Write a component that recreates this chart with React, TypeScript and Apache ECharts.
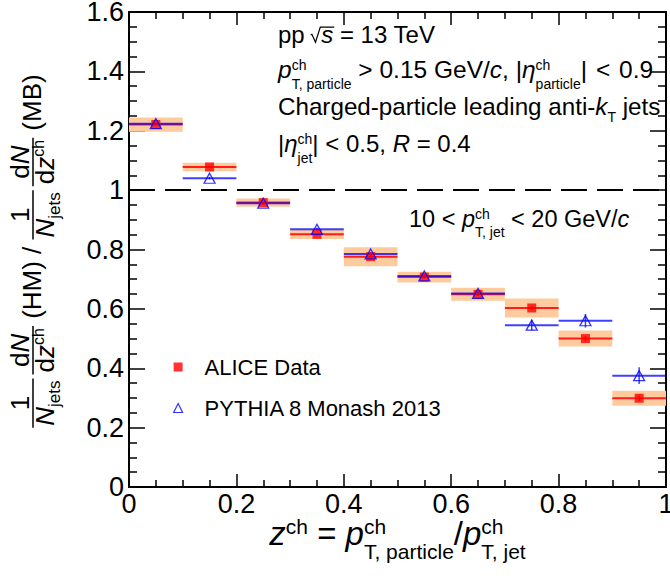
import React, { useEffect, useRef } from 'react';
import * as echarts from 'echarts';

const FONT = '"Liberation Sans", Arial, Helvetica, sans-serif';

// ---- data ----
const binCenters = [0.05, 0.15, 0.25, 0.35, 0.45, 0.55, 0.65, 0.75, 0.85, 0.95];
const binHalfWidth = 0.05;
const aliceValues = [1.221, 1.078, 0.958, 0.851, 0.776, 0.707, 0.649, 0.603, 0.5, 0.299];
const aliceStat = [0.004, 0.004, 0.004, 0.004, 0.005, 0.005, 0.006, 0.007, 0.008, 0.009];
const aliceSys = [0.024, 0.014, 0.014, 0.016, 0.032, 0.018, 0.022, 0.032, 0.027, 0.025];
const pythiaValues = [1.224, 1.04, 0.956, 0.868, 0.785, 0.711, 0.652, 0.545, 0.56, 0.375];
const pythiaStat = [0.004, 0.004, 0.004, 0.005, 0.006, 0.007, 0.008, 0.018, 0.023, 0.028];
const xRange = [0, 1];
const yRange = [0, 1.6];
const xInterval = 0.2;
const yInterval = 0.2;
const referenceLine = 1;
const legendNames = ['ALICE Data', 'PYTHIA 8 Monash 2013'];

const RED = '#ff0000';
const BLUE = '#0000ff';
const BOX = '#fdcb9d';

// ---- text layout helpers ----
let _ctx: CanvasRenderingContext2D | null = null;
function mw(t: string, s: number, it = false): number {
  if (!_ctx) _ctx = document.createElement('canvas').getContext('2d');
  _ctx!.font = `${it ? 'italic ' : ''}${s}px ${FONT}`;
  return _ctx!.measureText(t).width;
}
type Piece = { t: string; s: number; it?: boolean; dy?: number; gap?: number };
type Seg = Piece | { stack: Piece[]; gap?: number };

function T(x: number, base: number, text: string, size: number, italic = false): any {
  return {
    type: 'text',
    x,
    y: base - 0.3465 * size,
    silent: true,
    style: {
      text,
      fontSize: size,
      fontFamily: FONT,
      fontStyle: italic ? 'italic' : 'normal',
      fill: '#000',
      textAlign: 'left',
      textVerticalAlign: 'middle',
      verticalAlign: 'middle',
    },
  };
}
function segWidth(g: Seg): number {
  if ('stack' in g) return Math.max(...g.stack.map((p) => mw(p.t, p.s, p.it))) + (g.gap || 0);
  return mw(g.t, g.s, g.it) + (g.gap || 0);
}
function runWidth(segs: Seg[]): number {
  return segs.reduce((a, g) => a + segWidth(g), 0);
}
function run(x0: number, base: number, segs: Seg[], out: any[]): number {
  let x = x0;
  for (const g of segs) {
    if ('stack' in g) {
      for (const p of g.stack) out.push(T(x, base + (p.dy || 0), p.t, p.s, p.it));
    } else {
      out.push(T(x, base + (g.dy || 0), g.t, g.s, g.it));
    }
    x += segWidth(g);
  }
  return x;
}
function frac(x: number, num: Seg[], den: Seg[], numBase: number, denBase: number, out: any[]): number {
  const wn = runWidth(num);
  const wd = runWidth(den);
  const pad = 2;
  const W = Math.max(wn, wd) + 2 * pad;
  out.push({
    type: 'line',
    silent: true,
    shape: { x1: x, y1: 0, x2: x + W, y2: 0 },
    style: { stroke: '#000', lineWidth: 1.5 },
  });
  run(x + (W - wn) / 2, numBase, num, out);
  run(x + (W - wd) / 2, denBase, den, out);
  return x + W;
}

function buildGraphics(): any[] {
  const els: any[] = [];
  // --- top-right info block ---
  const S = 24;
  const S2 = 24.5;
  const S3 = 24.2;
  const R = 14;
  const X0 = 278;
  // line 1: pp sqrt(s) = 13 TeV
  {
    const b = 43;
    els.push(T(X0, b, 'pp', S));
    const xr = X0 + mw('pp', S) + 6;
    const xs = xr + 0.44 * S;
    const sw = mw('s', S, true);
    els.push({
      type: 'polyline',
      silent: true,
      shape: {
        points: [
          [xr, b - 0.33 * S],
          [xr + 0.05 * S, b - 0.36 * S],
          [xr + 0.2 * S, b - 0.03 * S],
          [xr + 0.4 * S, b - 0.66 * S],
          [xs + sw + 1, b - 0.66 * S],
        ],
      },
      style: { stroke: '#000', lineWidth: 1.2, fill: 'none' },
    });
    els.push(T(xs, b, 's', S, true));
    els.push(T(xs + sw, b, ' = 13 TeV', S));
  }
  run(X0, 78, [
    { t: 'p', s: S2, it: true },
    { stack: [{ t: 'ch', s: R, dy: -8 }, { t: 'T, particle', s: R, dy: 11 }] },
    { t: ' > 0.15 GeV/', s: S2 },
    { t: 'c', s: S2, it: true },
    { t: ', |', s: S2 },
    { t: 'η', s: S2, it: true },
    { stack: [{ t: 'ch', s: R, dy: -8 }, { t: 'particle', s: R, dy: 11 }] },
    { t: '| ', s: S2, gap: 2 },
    { t: '< ', s: S2, gap: 2 },
    { t: '0.9', s: S2 },
  ], els);
  run(X0, 115, [
    { t: 'Charged-particle leading anti-', s: S3 },
    { t: 'k', s: S3, it: true },
    { stack: [{ t: 'T', s: R, dy: 7 }] },
    { t: ' jets', s: S3 },
  ], els);
  run(X0, 152, [
    { t: '|', s: S },
    { t: 'η', s: S, it: true },
    { stack: [{ t: 'ch', s: R, dy: -8 }, { t: 'jet', s: R, dy: 11 }] },
    { t: '| < 0.5, ', s: S },
    { t: 'R', s: S, it: true },
    { t: ' = 0.4', s: S },
  ], els);
  // jet pt range
  run(409, 227, [
    { t: '10 < ', s: 23.5 },
    { t: 'p', s: 23.5, it: true },
    { stack: [{ t: 'ch', s: R, dy: -8 }, { t: 'T, jet', s: R, dy: 10 }] },
    { t: ' < 20 GeV/', s: 23.5 },
    { t: 'c', s: 23.5, it: true },
  ], els);

  // --- x axis title ---
  {
    const M = 33;
    const r = 21;
    const segs: Seg[] = [
      { t: 'z', s: M, it: true },
      { stack: [{ t: 'ch', s: r, dy: -11 }] },
      { t: ' = ', s: M },
      { t: 'p', s: M, it: true },
      { stack: [{ t: 'ch', s: r, dy: -11 }, { t: 'T, particle', s: r, dy: 14 }] },
      { t: '/', s: M },
      { t: 'p', s: M, it: true },
      { stack: [{ t: 'ch', s: r, dy: -11 }, { t: 'T, jet', s: r, dy: 14 }] },
    ];
    const w = runWidth(segs);
    run(397.5 - w / 2, 545, segs, els);
  }

  // --- y axis title (rotated) ---
  {
    const M = 26;
    const r = 17;
    const loc: any[] = [];
    const numB = -4;
    const denB = 21;
    const one = (x: number) =>
      frac(x, [{ t: '1', s: M }], [{ t: 'N', s: M, it: true }, { stack: [{ t: 'jets', s: r, dy: 6 }] }], numB, denB, loc);
    const dndz = (x: number) =>
      frac(
        x,
        [{ t: 'd', s: M }, { t: 'N', s: M, it: true }],
        [{ t: 'd', s: M }, { t: 'z', s: M, it: true }, { stack: [{ t: 'ch', s: 16, dy: -10 }] }],
        numB,
        denB,
        loc
      );
    let x = 0;
    x = one(x) + 4;
    x = dndz(x);
    x = run(x, 8, [{ t: ' (HM) / ', s: M }], loc);
    x = one(x) + 4;
    x = dndz(x);
    x = run(x, 8, [{ t: ' (MB)', s: M }], loc);
    const L = x;
    els.push({ type: 'group', x: 33, y: 251 + L / 2, rotation: Math.PI / 2, children: loc });
  }
  return els;
}

function barRenderer(color: string, hw: number) {
  return (params: any, api: any) => {
    const x = api.value(0);
    const y = api.value(1);
    const e = api.value(2);
    const l = api.coord([x - hw, y]);
    const r = api.coord([x + hw, y]);
    const t = api.coord([x, y + e]);
    const b = api.coord([x, y - e]);
    return {
      type: 'group',
      children: [
        { type: 'line', shape: { x1: l[0], y1: l[1], x2: r[0], y2: r[1] }, style: { stroke: color, lineWidth: 2 } },
        { type: 'line', shape: { x1: t[0], y1: t[1], x2: b[0], y2: b[1] }, style: { stroke: color, lineWidth: 1.5 } },
      ],
    };
  };
}

function buildOption(): any {
  const tickStyle = { color: '#000', width: 1.5 };
  const lineStyle = { color: '#000', width: 2 };
  const labelStyle = { fontSize: 27, fontFamily: FONT, color: '#000' };
  const xBase = {
    type: 'value',
    min: xRange[0],
    max: xRange[1],
    interval: xInterval,
    axisLine: { show: true, onZero: false, lineStyle },
    axisTick: { show: true, inside: true, length: 13, lineStyle: tickStyle },
    minorTick: { show: true, splitNumber: 4, length: 7, lineStyle: tickStyle },
    splitLine: { show: false },
    minorSplitLine: { show: false },
  };
  const yBase = {
    type: 'value',
    min: yRange[0],
    max: yRange[1],
    interval: yInterval,
    axisLine: { show: true, onZero: false, lineStyle },
    axisTick: { show: true, inside: true, length: 16, lineStyle: tickStyle },
    minorTick: { show: true, splitNumber: 4, length: 8, lineStyle: tickStyle },
    splitLine: { show: false },
    minorSplitLine: { show: false },
  };
  return {
    animation: false,
    backgroundColor: '#fff',
    grid: { left: 129, right: 4, top: 12, bottom: 89, containLabel: false, outerBoundsMode: 'none' },
    xAxis: [
      { ...xBase, position: 'bottom', axisLabel: { ...labelStyle, margin: 3 } },
      { ...xBase, position: 'top', axisLabel: { show: false } },
    ],
    yAxis: [
      { ...yBase, position: 'left', axisLabel: { ...labelStyle, margin: 5 } },
      { ...yBase, position: 'right', axisLabel: { show: false } },
    ],
    legend: {
      orient: 'vertical',
      left: 168,
      top: 350,
      itemWidth: 9,
      itemHeight: 9,
      itemGap: 17,
      selectedMode: false,
      textStyle: { fontFamily: FONT, fontSize: 22, color: '#000', lineHeight: 24, padding: [0, 0, 0, 17] },
      data: [
        { name: legendNames[0], icon: 'rect', itemStyle: { color: RED, borderWidth: 0 } },
        {
          name: legendNames[1],
          icon: 'triangle',
          itemStyle: { color: 'rgba(0,0,0,0)', borderColor: BLUE, borderWidth: 1.2 },
        },
      ],
    },
    graphic: { elements: buildGraphics() },
    series: [
      {
        name: 'ALICE syst.',
        type: 'custom',
        z: 1,
        encode: { x: 0, y: 1 },
        data: binCenters.map((x, i) => [x, aliceValues[i], aliceSys[i]]),
        renderItem: (params: any, api: any) => {
          const x = api.value(0);
          const y = api.value(1);
          const e = api.value(2);
          const p1 = api.coord([x - binHalfWidth, y + e]);
          const p2 = api.coord([x + binHalfWidth, y - e]);
          return {
            type: 'rect',
            shape: { x: p1[0], y: p1[1], width: p2[0] - p1[0], height: p2[1] - p1[1] },
            style: { fill: BOX },
          };
        },
      },
      {
        name: 'ALICE bars',
        type: 'custom',
        z: 2,
        encode: { x: 0, y: 1 },
        data: binCenters.map((x, i) => [x, aliceValues[i], aliceStat[i]]),
        renderItem: barRenderer('rgba(255,0,0,0.85)', binHalfWidth),
      },
      {
        name: 'PYTHIA bars',
        type: 'custom',
        z: 3,
        encode: { x: 0, y: 1 },
        data: binCenters.map((x, i) => [x, pythiaValues[i], pythiaStat[i]]),
        renderItem: barRenderer('rgba(0,0,255,0.75)', binHalfWidth),
      },
      {
        name: legendNames[0],
        type: 'scatter',
        z: 4,
        symbol: 'rect',
        symbolSize: 9,
        itemStyle: { color: RED },
        data: binCenters.map((x, i) => [x, aliceValues[i]]),
        markLine: {
          silent: true,
          symbol: ['none', 'none'],
          label: { show: false },
          lineStyle: { color: '#000', type: [26, 10], width: 2 },
          data: [{ yAxis: referenceLine }],
        },
      },
      {
        name: legendNames[1],
        type: 'scatter',
        z: 5,
        symbol: 'triangle',
        symbolSize: [11, 10],
        itemStyle: { color: 'rgba(0,0,0,0)', borderColor: BLUE, borderWidth: 1.3 },
        data: binCenters.map((x, i) => [x, pythiaValues[i]]),
      },
    ],
  };
}

export default function App() {
  const ref = useRef<HTMLDivElement>(null);
  useEffect(() => {
    const chart = echarts.init(ref.current!, null, { renderer: 'svg' });
    chart.setOption(buildOption());
    return () => chart.dispose();
  }, []);
  return (
    <div
      ref={ref}
      style={{ position: 'absolute', left: 0, top: 0, width: 670, height: 576, background: '#fff' }}
    />
  );
}
